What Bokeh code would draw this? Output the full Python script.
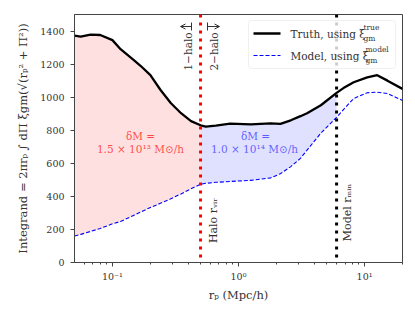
import numpy as np
from bokeh.plotting import figure
from bokeh.models import (Span, Label, BoxAnnotation, Arrow, OpenHead, TeeHead,
                          FixedTicker, Range1d)
from bokeh.embed import file_html
from bokeh.resources import INLINE

# ---------------- data ----------------
rp = [0.05, 0.056, 0.067, 0.08, 0.1, 0.116, 0.147, 0.167, 0.2, 0.24, 0.29, 0.35,
      0.42, 0.5, 0.55, 0.66, 0.86, 1.25, 1.8, 2.15, 2.6, 3.1, 3.5, 4.5, 6.0, 6.8,
      8.2, 10.5, 12.6, 15.2, 20.0]
truth = [1372, 1366, 1378, 1376, 1345, 1290, 1226, 1190, 1133, 1045, 965, 903,
         855, 830, 822, 828, 840, 836, 842, 838, 860, 885, 903, 951, 1026, 1055,
         1090, 1120, 1133, 1100, 1050]
model = [160, 170, 188, 206, 234, 248, 285, 305, 333, 358, 385, 415,
         446, 473, 479, 485, 490, 497, 512, 537, 580, 630, 680, 782, 878, 925,
         992, 1027, 1030, 1022, 980]
r_vir = 0.5
r_min = 6.0
y_ticks = [0, 200, 400, 600, 800, 1000, 1200, 1400]
x_major = [0.1, 1, 10]
x_major_labels = ["10⁻¹", "10⁰", "10¹"]
x_minor = [0.06, 0.07, 0.08, 0.09, 0.2, 0.3, 0.4, 0.5, 0.6, 0.7, 0.8, 0.9,
           2, 3, 4, 5, 6, 7, 8, 9, 20]
dm_1halo = ["δM =", "1.5 × 10¹³ M⊙/h"]
dm_2halo = ["δM =", "1.0 × 10¹⁴ M⊙/h"]
legend_main = ["Truth, using ξ", "Model, using ξ"]
legend_sup = ["true", "model"]
legend_sub = ["gm", "gm"]

SERIF = "DejaVu Serif"

p = figure(width=413, height=304, x_axis_type="log",
           x_range=Range1d(0.05, 20), y_range=Range1d(0, 1500),
           output_backend="svg", toolbar_location=None,
           min_border_left=74, min_border_right=11, min_border_top=14,
           min_border_bottom=42)
p.grid.visible = False
p.outline_line_color = "#444444"
p.outline_line_width = 1

rp_a = np.array(rp)
t_a = np.array(truth)
m_a = np.array(model)
sel1 = rp_a <= r_vir
sel2 = (rp_a >= r_vir) & (rp_a <= r_min)
p.varea(x=rp_a[sel1], y1=m_a[sel1], y2=t_a[sel1], fill_color="red", fill_alpha=0.12)
p.varea(x=rp_a[sel2], y1=m_a[sel2], y2=t_a[sel2], fill_color="blue", fill_alpha=0.12)
p.line(rp, model, line_color="blue", line_width=1.1, line_dash="4 2")
p.line(rp, truth, line_color="black", line_width=2.3)

p.add_layout(Span(location=r_vir, dimension="height", line_color="red",
                  line_width=3, line_dash="3 5"))
p.add_layout(Span(location=r_min, dimension="height", line_color="black",
                  line_width=3, line_dash="3 5"))

# axes
p.xaxis.ticker = FixedTicker(ticks=x_major, minor_ticks=x_minor)
p.xaxis.major_label_overrides = {t: l for t, l in zip(x_major, x_major_labels)}
p.yaxis.ticker = FixedTicker(ticks=y_ticks)
for ax in (p.xaxis[0], p.yaxis[0]):
    ax.axis_line_color = "#444444"
    ax.major_tick_line_color = "#444444"
    ax.minor_tick_line_color = "#444444" if ax is p.xaxis[0] else None
    ax.major_tick_in = 0
    ax.major_tick_out = 4
    ax.minor_tick_in = 0
    ax.minor_tick_out = 2
    ax.major_label_text_font = SERIF
    ax.major_label_text_font_size = "9.5px"
    ax.major_label_text_color = "#333333"
    ax.axis_label_text_font = SERIF
    ax.axis_label_text_font_style = "normal"
    ax.axis_label_text_font_size = "11.5px"
    ax.axis_label_text_color = "#333333"
p.xaxis.axis_label = "rₚ (Mpc/h)"
p.yaxis.axis_label = "Integrand = 2πrₚ ∫ dΠ ξgm(√(rₚ² + Π²))"
p.xaxis.major_label_standoff = 4
p.xaxis.axis_label_standoff = 3
p.yaxis.major_label_standoff = 6
p.yaxis.axis_label_standoff = 7

# annotations (screen units relative to frame: x from left, y from bottom)
def lab(text, x, y, color="#333333", size="10.5px", angle=0, align="center",
        x_units="screen", x_offset=0, alpha=1.0, font=SERIF):
    p.add_layout(Label(text=text, x=x, y=y, x_units=x_units, y_units="screen",
                       x_offset=x_offset, angle=angle, text_align=align,
                       text_baseline="middle", text_font=font,
                       text_font_size=size, text_color=color, text_alpha=alpha))

# 1-halo / 2-halo arrows
for xs, xe in ((117, 106), (133, 145)):
    p.add_layout(Arrow(x_start=xs, y_start=236, x_end=xe, y_end=236,
                       start_units="screen", end_units="screen",
                       line_color="#333333", line_width=1,
                       start=TeeHead(size=8, line_color="#333333", line_width=1),
                       end=OpenHead(size=5, line_color="#333333", line_width=1)))

lab(dm_1halo[0], 66, 127, color="red", alpha=0.7)
lab(dm_1halo[1], 66, 114, color="red", alpha=0.7)
lab(dm_2halo[0], 181, 127, color="blue", alpha=0.6)
lab(dm_2halo[1], 180, 114, color="blue", alpha=0.6)

# legend
p.add_layout(BoxAnnotation(left=174, right=321, top=242, bottom=194,
                           left_units="screen", right_units="screen",
                           top_units="screen", bottom_units="screen",
                           fill_color="white", fill_alpha=0.8,
                           line_color="#cccccc", line_width=1, border_radius=3))
p.add_layout(Arrow(end=None, x_start=179, y_start=229, x_end=206, y_end=229,
                   start_units="screen", end_units="screen",
                   line_color="black", line_width=2.3))
p.add_layout(Arrow(end=None, x_start=179, y_start=207, x_end=206, y_end=207,
                   start_units="screen", end_units="screen",
                   line_color="blue", line_width=1.1, line_dash="4 2"))
lab(legend_main[0], 216, 229, align="left")
lab(legend_main[1], 216, 207, align="left")
lab(legend_sup[0], 289, 235, align="left", size="7.5px")
lab(legend_sub[0], 289, 224, align="left", size="7.5px")
lab(legend_sup[1], 291, 213, align="left", size="7.5px")
lab(legend_sub[1], 291, 202, align="left", size="7.5px")

lab("1−halo", r_vir, 211, angle=np.pi / 2, x_units="data", x_offset=-13)
lab("2−halo", r_vir, 211, angle=np.pi / 2, x_units="data", x_offset=13)
lab("Halo rᵥᵢᵣ", r_vir, 42, angle=np.pi / 2, x_units="data", x_offset=13, size="11px")
lab("Model rₘᵢₙ", r_min, 50, angle=np.pi / 2, x_units="data", x_offset=11, size="11px")

open("out.html", "w").write(file_html(p, INLINE))
